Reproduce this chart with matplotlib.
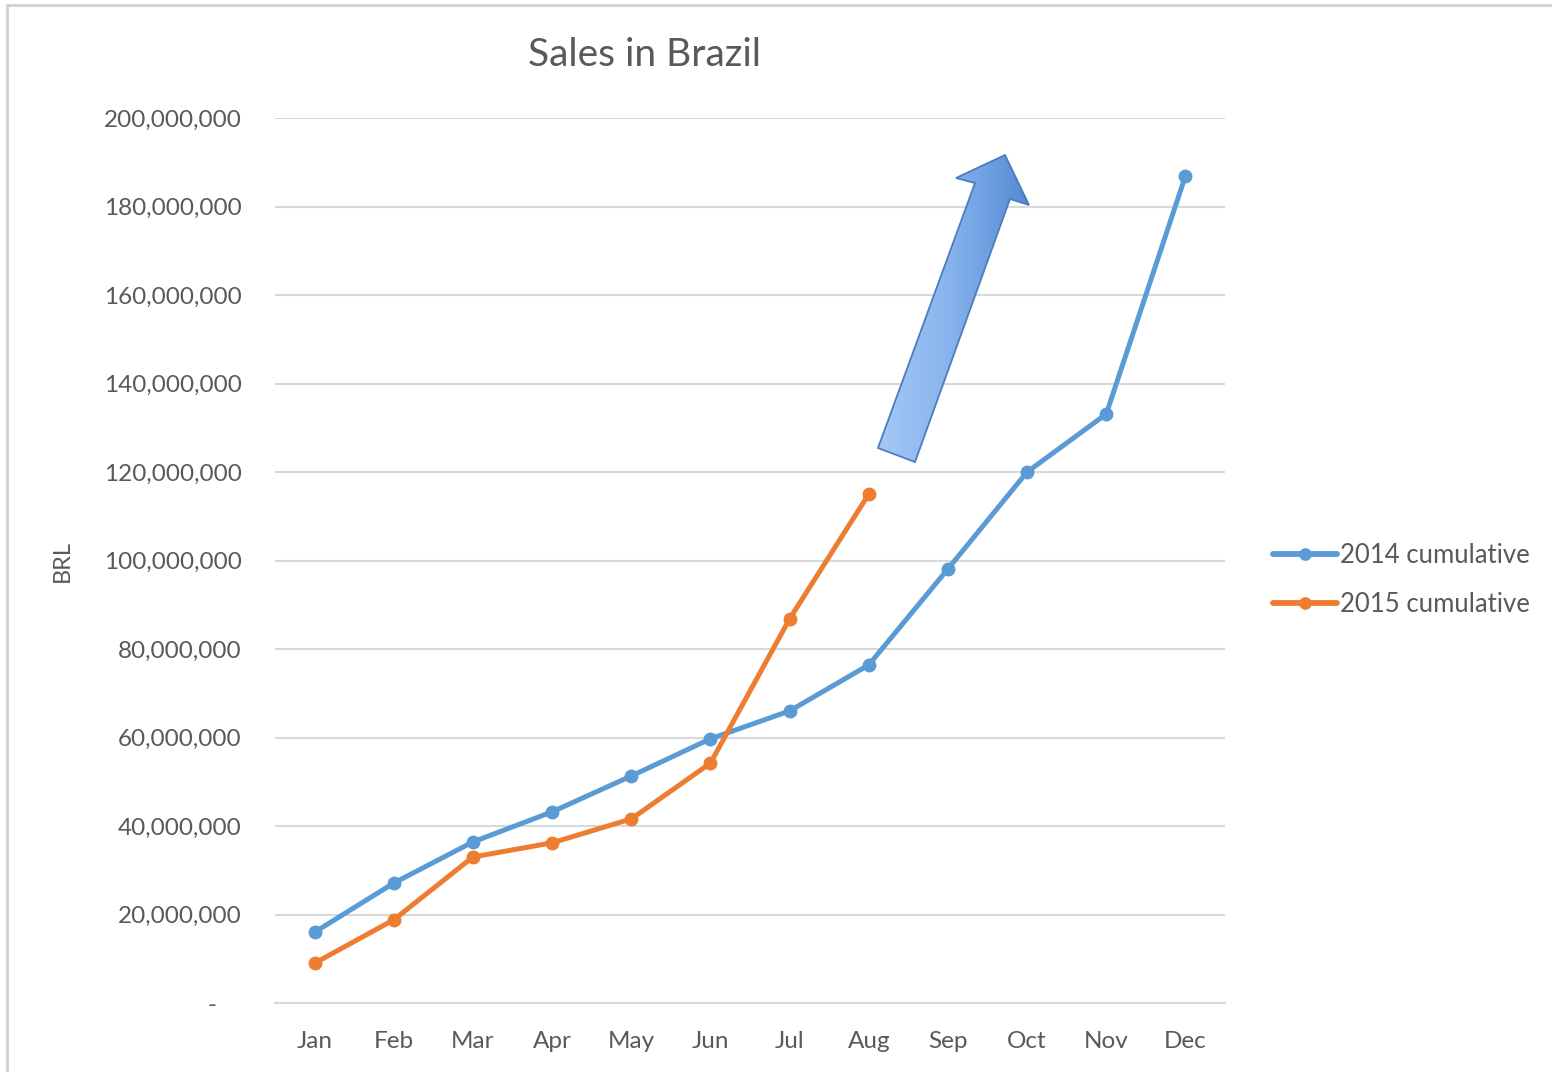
import matplotlib.pyplot as plt
import numpy as np
from matplotlib.patches import Polygon, Rectangle
from matplotlib.ticker import FuncFormatter
from matplotlib.colors import LinearSegmentedColormap

plt.rcParams["font.family"] = ["Lato", "DejaVu Sans"]

# data (BRL, cumulative)
months = ["Jan", "Feb", "Mar", "Apr", "May", "Jun", "Jul", "Aug", "Sep", "Oct", "Nov", "Dec"]
sales_2014 = [16.0e6, 27.1e6, 36.4e6, 43.2e6, 51.3e6, 59.7e6, 66.0e6, 76.4e6, 98.1e6, 120.0e6, 133.1e6, 186.9e6]
sales_2015 = [9.0e6, 18.8e6, 33.0e6, 36.2e6, 41.6e6, 54.2e6, 86.8e6, 115.0e6]
y_ticks = [0, 20e6, 40e6, 60e6, 80e6, 100e6, 120e6, 140e6, 160e6, 180e6, 200e6]

W, H = 1552, 1072
fig = plt.figure(figsize=(W / 100, H / 100), dpi=100)
ax = fig.add_axes([275 / W, 1 - 1003 / H, 950 / W, 885 / H])

x = np.arange(len(months))
ax.plot(x, sales_2014, color="#5b9bd5", lw=3.6, marker="o", ms=9, label="2014 cumulative",
        solid_capstyle="round", zorder=3)
ax.plot(x[:len(sales_2015)], sales_2015, color="#ed7d31", lw=3.6, marker="o", ms=9,
        label="2015 cumulative", solid_capstyle="round", zorder=3)

ax.set_xlim(-0.5, len(months) - 0.5)
ax.set_ylim(0, 200e6)
ax.set_xticks(x)
ax.set_xticklabels(months)
ax.set_yticks(y_ticks)
ax.yaxis.set_major_formatter(FuncFormatter(lambda v, p: "-    " if v == 0 else f"{v:,.0f}"))
ax.grid(axis="y", color="#d9d9d9", lw=1.5)
ax.set_axisbelow(True)
for s in ["top", "right", "left"]:
    ax.spines[s].set_visible(False)
ax.spines["bottom"].set_color("#d9d9d9")
ax.spines["bottom"].set_linewidth(1.5)
ax.tick_params(length=0, colors="#595959", labelsize=17.5)
ax.tick_params(axis="y", pad=24)
ax.tick_params(axis="x", pad=20)
ax.set_ylabel("BRL", color="#595959", fontsize=17, labelpad=22)

fig.text(645 / W, 1 - 55 / H, "Sales in Brazil", ha="center", va="center",
         fontsize=28, color="#595959")

leg = fig.legend(loc="center left", bbox_to_anchor=(1250 / W, 1 - 580 / H), frameon=False,
                 fontsize=18.5, labelcolor="#595959", handlelength=2.5, handletextpad=0.1,
                 labelspacing=0.95, markerscale=0.9)
for ln in leg.get_lines():
    ln.set_linewidth(4.2)

# chart frame
fig.patches.append(Rectangle((7 / W, -0.01), 1.02, 1 - 5 / H + 0.01, transform=fig.transFigure,
                             fill=False, edgecolor="#d0d0d0", lw=2))

# gradient arrow
pts = [(878, 448), (975, 183), (956, 178), (1005, 155), (1029, 205), (1010, 199), (915, 462)]
pts = [(px / W, 1 - py / H) for px, py in pts]
arrow = Polygon(pts, closed=True, transform=fig.transFigure, facecolor="none",
                edgecolor="#4a7ebb", lw=1.3, zorder=6)
fig.patches.append(arrow)
grad_ax = fig.add_axes([0, 0, 1, 1], zorder=5)
grad_ax.set_xlim(0, 1)
grad_ax.set_ylim(0, 1)
grad_ax.axis("off")
g = np.linspace(0, 1, 256).reshape(1, -1)
cmap = LinearSegmentedColormap.from_list("arr", ["#a9cbf7", "#86b2ee", "#4f86d2"])
im = grad_ax.imshow(np.tile(g, (2, 1)), extent=[870 / W, 1035 / W, 1 - 470 / H, 1 - 150 / H],
                    cmap=cmap, aspect="auto", zorder=5)
clip = Polygon(pts, closed=True, transform=fig.transFigure)
im.set_clip_path(clip)

fig.savefig("out.png", dpi=100, facecolor="white")
